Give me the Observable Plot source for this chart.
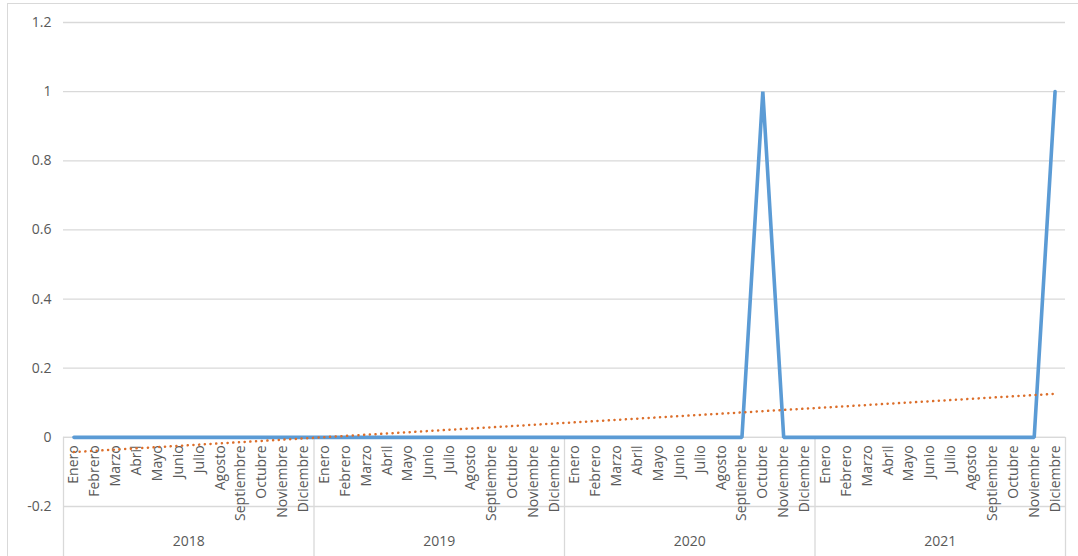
<!DOCTYPE html>
<html>
<head>
<meta charset="utf-8">
<script src="https://cdn.jsdelivr.net/npm/d3@7"></script>
<script src="https://cdn.jsdelivr.net/npm/@observablehq/plot@0.6"></script>
<style>
  body { margin: 0; background: #fff; }
  #wrap { position: relative; width: 1078px; height: 556px; overflow: hidden; }
  #frame { position: absolute; left: 7px; top: 3px; width: 1100px; height: 600px; border-left: 1.5px solid #d9d9d9; border-top: 1.5px solid #d9d9d9; pointer-events: none; }
  #chart { position: absolute; left: 0; top: 0; }
</style>
</head>
<body>
<div id="wrap"><div id="chart"></div><div id="frame"></div></div>
<script>
const years = ["2018", "2019", "2020", "2021"];
const months = ["Enero", "Febrero", "Marzo", "Abril", "Mayo", "Junio", "Julio", "Agosto", "Septiembre", "Octubre", "Noviembre", "Diciembre"];
const values2018 = [0, 0, 0, 0, 0, 0, 0, 0, 0, 0, 0, 0];
const values2019 = [0, 0, 0, 0, 0, 0, 0, 0, 0, 0, 0, 0];
const values2020 = [0, 0, 0, 0, 0, 0, 0, 0, 0, 1, 0, 0];
const values2021 = [0, 0, 0, 0, 0, 0, 0, 0, 0, 0, 0, 1];
const yTicks = [-0.2, 0, 0.2, 0.4, 0.6, 0.8, 1, 1.2];

const seriesByYear = [values2018, values2019, values2020, values2021];
const rows = [];
years.forEach((yr, yi) => {
  months.forEach((m, mi) => {
    rows.push({ i: yi * 12 + mi + 1, year: yr, month: m, value: seriesByYear[yi][mi] });
  });
});
const yearRows = years.map((yr, yi) => ({ year: yr, center: yi * 12 + 6.5 }));
const bounds = [0, 1, 2, 3, 4].map(k => k * 12 + 0.5);

const font = "'Open Sans', 'Liberation Sans', sans-serif";
const textColor = "#595959";

const chart = Plot.plot({
  width: 1078,
  height: 556,
  marginLeft: 63,
  marginRight: 13,
  marginTop: 22,
  marginBottom: 50,
  style: { fontFamily: font, background: "transparent", overflow: "visible" },
  x: { type: "linear", domain: [0.5, 48.5], axis: null },
  y: { domain: [-0.2, 1.2], axis: null },
  marks: [
    Plot.gridY(yTicks, { stroke: "#d9d9d9", strokeOpacity: 1, strokeWidth: 1.3 }),
    Plot.axisY(yTicks, { tickSize: 0, tickPadding: 12, fontSize: 14, fill: textColor, tickFormat: d => String(d), label: null }),
    Plot.ruleY([0], { stroke: "#d9d9d9", strokeWidth: 1.3 }),
    Plot.ruleX(bounds, { y1: 0, y2: -0.35, stroke: "#d9d9d9", strokeWidth: 1.3 }),
    Plot.text(rows, { x: "i", y: 0, text: "month", rotate: -90, textAnchor: "end", lineAnchor: "middle", dy: 8, fontSize: 14, fill: textColor }),
    Plot.text(yearRows, { x: "center", y: -0.3, text: "year", fontSize: 14, fill: textColor }),
    Plot.line(rows, { x: "i", y: "value", stroke: "#5b9bd5", strokeWidth: 3.6, strokeLinejoin: "miter" }),
    Plot.linearRegressionY(rows, { x: "i", y: "value", ci: 0, stroke: "#dc6e2a", strokeWidth: 2.5, strokeDasharray: "0.1 5.6", strokeLinecap: "round" })
  ]
});
document.getElementById("chart").appendChild(chart);
</script>
</body>
</html>
